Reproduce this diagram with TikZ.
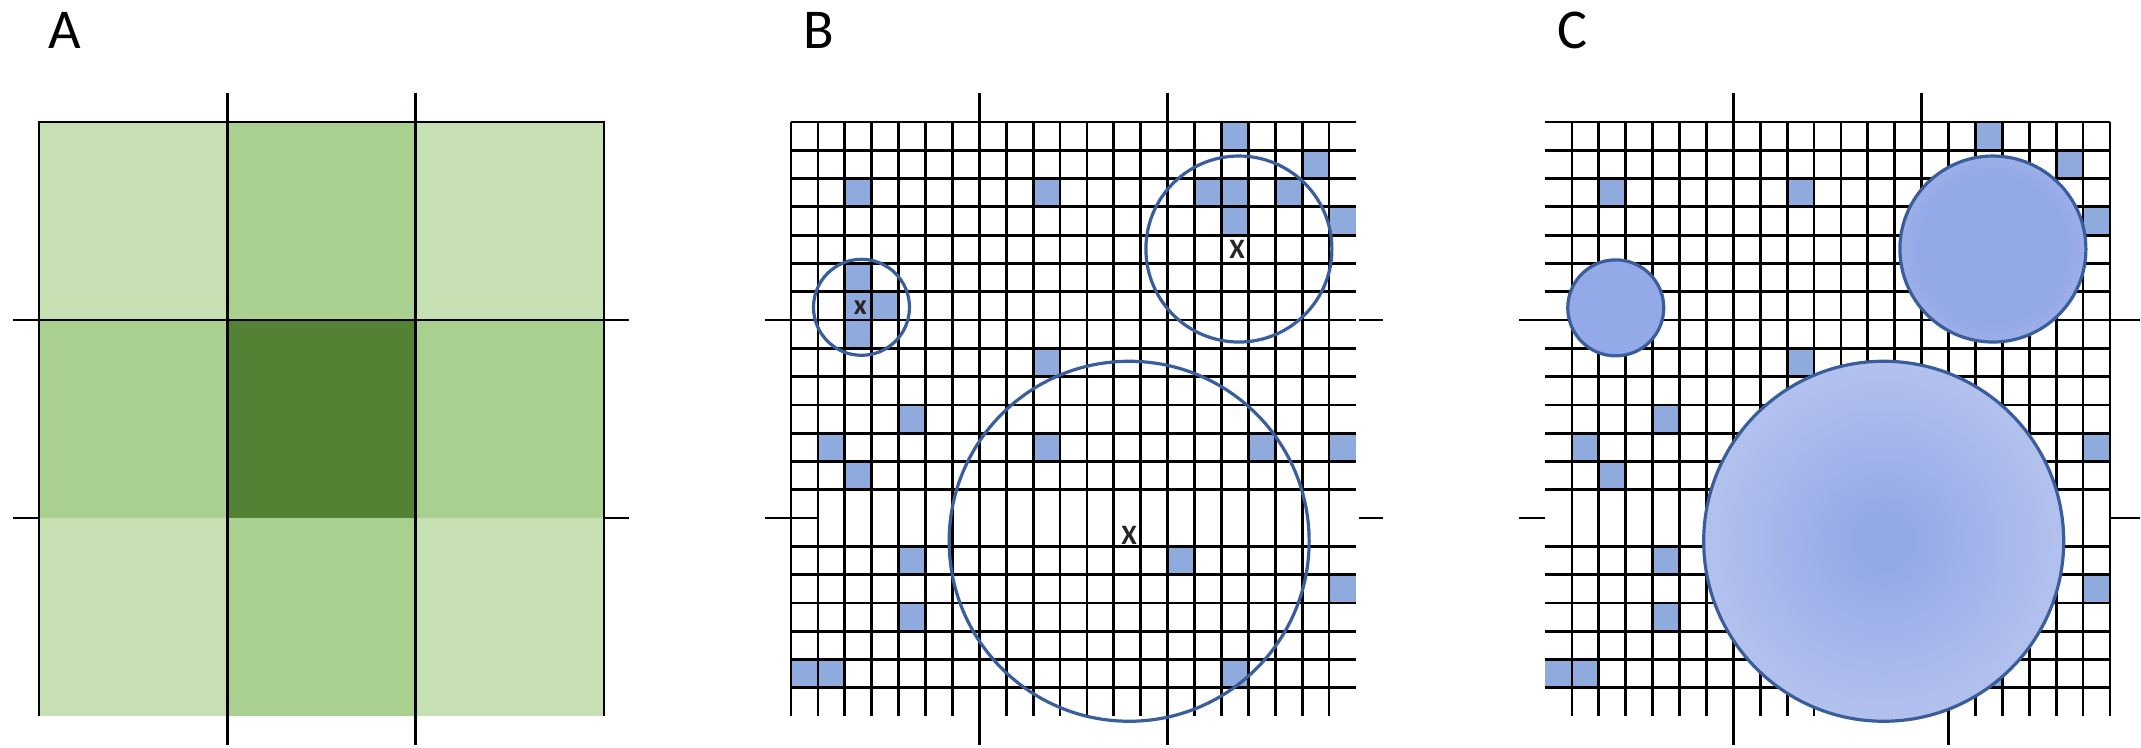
\documentclass[tikz,border=0pt]{standalone}
\usepackage{fontspec}
\setmainfont{Carlito}
\definecolor{GreenLight}{HTML}{C6E0B4}
\definecolor{GreenMid}{HTML}{A9D08E}
\definecolor{GreenDark}{HTML}{548235}
\definecolor{CellBlue}{HTML}{8FAADC}
\definecolor{RingBlue}{HTML}{3A5E9C}
\definecolor{BubbleCore}{RGB}{148,169,231}
\definecolor{BubbleMid}{RGB}{178,192,237}
\definecolor{BubbleRim}{RGB}{204,213,242}
\definecolor{BubbleSoft}{RGB}{196,205,240}
\pgfdeclareradialshading{bubble}{\pgfpointorigin}{color(0bp)=(BubbleCore); color(4bp)=(BubbleCore); color(24bp)=(BubbleMid); color(48bp)=(BubbleRim); color(50bp)=(BubbleRim)}
\pgfdeclareradialshading{bubbletight}{\pgfpointorigin}{color(0bp)=(BubbleCore); color(20bp)=(BubbleCore); color(50bp)=(BubbleSoft)}

\begin{document}
\begin{tikzpicture}[x=0.1mm, y=-0.1mm,
  gridline/.style={line width=0.28mm, black},
  cell/.style={fill=CellBlue},
  ring/.style={line width=0.32mm, draw=RingBlue},
  panellabel/.style={font=\fontsize{16}{19}\selectfont, anchor=base, inner sep=0pt},
  centremark/.style={font=\bfseries\fontsize{8}{9}\selectfont, text=black!85, inner sep=0pt}]

\useasboundingbox (0,0) rectangle (2141,747);

% Panel letters
\node[panellabel] (labA) at (65,48) {A};
\node[panellabel] (labB) at (819,48) {B};
\node[panellabel] (labC) at (1572,48) {C};

% A: coarse 3x3 cells
\begin{scope}[shift={(39,122)}, x=2.69mm, y=-2.829mm]
\foreach \i/\j/\c in {0/0/GreenLight, 1/0/GreenMid, 2/0/GreenLight,
                      0/1/GreenMid, 1/1/GreenDark, 2/1/GreenMid,
                      0/2/GreenLight, 1/2/GreenMid, 2/2/GreenLight}
  \fill[\c] (7*\i,7*\j) rectangle ++(7,7);
\draw[gridline] (0,21) -- (0,0) -- (21,0) -- (21,21);
\draw[gridline] (7,-1.03) -- (7,22.03);
\draw[gridline] (14,-1.03) -- (14,22.03);
\draw[gridline] (-0.95,7) -- (21.95,7);
\draw[gridline] (-0.95,14) -- (0,14) (21,14) -- (21.95,14);
\end{scope}

% B: fine grid with search circles
\begin{scope}[shift={(791,122)}, x=2.69mm, y=-2.829mm]
\foreach \i/\j in {16/0, 19/1, 2/2, 9/2, 15/2, 16/2, 18/2, 16/3, 20/3,
                   2/5, 2/6, 3/6, 2/7, 9/8, 4/10, 1/11, 9/11, 17/11, 20/11,
                   2/12, 4/15, 14/15, 20/16, 4/17, 0/19, 1/19, 16/19}
  \fill[cell] (\i,\j) rectangle ++(1,1);
\foreach \j in {0,...,13,15,16,...,20}
  \draw[gridline] (0,\j) -- (21,\j);
\foreach \i in {0,...,20}
  \draw[gridline] (\i,0) -- (\i,21);
% ticks
\draw[gridline] (7,-1.03) -- (7,0) (7,21) -- (7,22.03);
\draw[gridline] (14,-1.03) -- (14,0) (14,21) -- (14,22.03);
\draw[gridline] (-0.97,7) -- (0,7) (21.1,7) -- (22,7);
\draw[gridline] (-0.97,14) -- (1,14) (21.1,14) -- (22,14);
% circles
\draw[ring] (2.62,6.55) circle[radius=4.8mm];
\draw[ring] (16.65,4.49) circle[radius=9.3mm];
\draw[ring] (12.57,14.82) circle[radius=18mm];
\node[centremark] (markSmall) at (2.58,6.57) {x};
\node[centremark] (markTop) at (16.58,4.52) {X};
\node[centremark] (markBig) at (12.57,14.6) {X};
\end{scope}

% C: fine grid with filled bubbles
\begin{scope}[shift={(1545,122)}, x=2.69mm, y=-2.829mm]
\foreach \i/\j in {16/0, 19/1, 2/2, 9/2, 20/3, 9/8, 4/10, 1/11, 20/11,
                   2/12, 4/15, 20/16, 4/17, 0/19, 1/19, 16/19}
  \fill[cell] (\i,\j) rectangle ++(1,1);
\foreach \j in {0,...,13,15,16,...,20}
  \draw[gridline] (0,\j) -- (21,\j);
\foreach \i in {1,...,21}
  \draw[gridline] (\i,0) -- (\i,21);
% ticks
\draw[gridline] (7,-1.03) -- (7,0) (7,21) -- (7,22.03);
\draw[gridline] (14,-1.03) -- (14,0) (15,21) -- (15,22.03);
\draw[gridline] (-0.97,7) -- (0,7) (21,7) -- (22.1,7);
\draw[gridline] (-0.97,14) -- (0,14) (21,14) -- (22.1,14);
% bubbles
\fill[BubbleCore] (2.63,6.57) circle[radius=4.8mm];
\draw[ring] (2.63,6.57) circle[radius=4.8mm];
\shade[shading=bubbletight] (16.65,4.49) circle[radius=9.3mm];
\draw[ring] (16.65,4.49) circle[radius=9.3mm];
\shade[shading=bubble] (12.59,14.82) circle[radius=18mm];
\draw[ring] (12.59,14.82) circle[radius=18mm];
\end{scope}
\end{tikzpicture}
\end{document}
